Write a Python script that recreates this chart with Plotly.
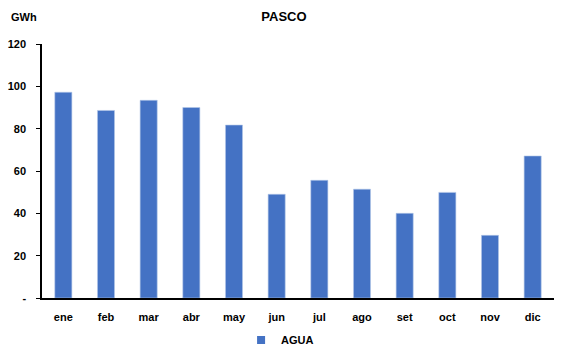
import plotly.graph_objects as go

months = ["ene", "feb", "mar", "abr", "may", "jun", "jul", "ago", "set", "oct", "nov", "dic"]
agua = [97.2, 88.6, 93.4, 90.0, 81.7, 49.0, 55.6, 51.4, 40.0, 49.9, 29.6, 67.1]
yticks = [0, 20, 40, 60, 80, 100, 120]
yticklabels = ["-", "20", "40", "60", "80", "100", "120"]

font = "Liberation Sans, Arial, sans-serif"
blue = "#4472C4"

fig = go.Figure()
fig.add_trace(go.Bar(
    x=months, y=agua, name="<b>AGUA</b>", showlegend=False, legendgroup="agua",
    marker=dict(color=blue, line=dict(color="#B4C7E7", width=0.6)),
    width=0.4,
))
# legend entry with a small square symbol
fig.add_trace(go.Scatter(
    x=[None], y=[None], mode="markers", name="<b>AGUA</b>", legendgroup="agua",
    marker=dict(symbol="square", size=8, color=blue),
))

fig.update_layout(
    width=568, height=358,
    margin=dict(l=42, r=14, t=44, b=60, autoexpand=False),
    paper_bgcolor="white", plot_bgcolor="white",
    font=dict(family=font, size=11, color="black"),
    title=dict(text="<b>PASCO</b>", x=0.5, xanchor="center", y=0.955, yanchor="middle",
               font=dict(family=font, size=13, color="black")),
    showlegend=True,
    legend=dict(orientation="h", x=0.465, xanchor="center", y=-0.165, yanchor="middle",
                font=dict(family=font, size=11, color="black"), itemwidth=30),
    annotations=[dict(text="<b>GWh</b>", xref="paper", yref="paper", x=-0.065, y=1.105,
                      xanchor="left", yanchor="middle", showarrow=False,
                      font=dict(family=font, size=11, color="black"))],
)
fig.update_xaxes(showline=True, linecolor="black", linewidth=1.5, ticks="",
                 ticklabelstandoff=8, automargin=False,
                 tickfont=dict(family=font, size=11), tickprefix="<b>", ticksuffix="</b>")
fig.update_yaxes(range=[0, 120], tickvals=yticks, ticktext=["<b>" + t + "</b>" for t in yticklabels],
                 showline=True, linecolor="black", linewidth=1.5, ticks="outside",
                 ticklen=4, tickcolor="black", showgrid=False, zeroline=False,
                 ticklabelstandoff=8, automargin=False,
                 tickfont=dict(family=font, size=11))

fig.write_html("out.html")
